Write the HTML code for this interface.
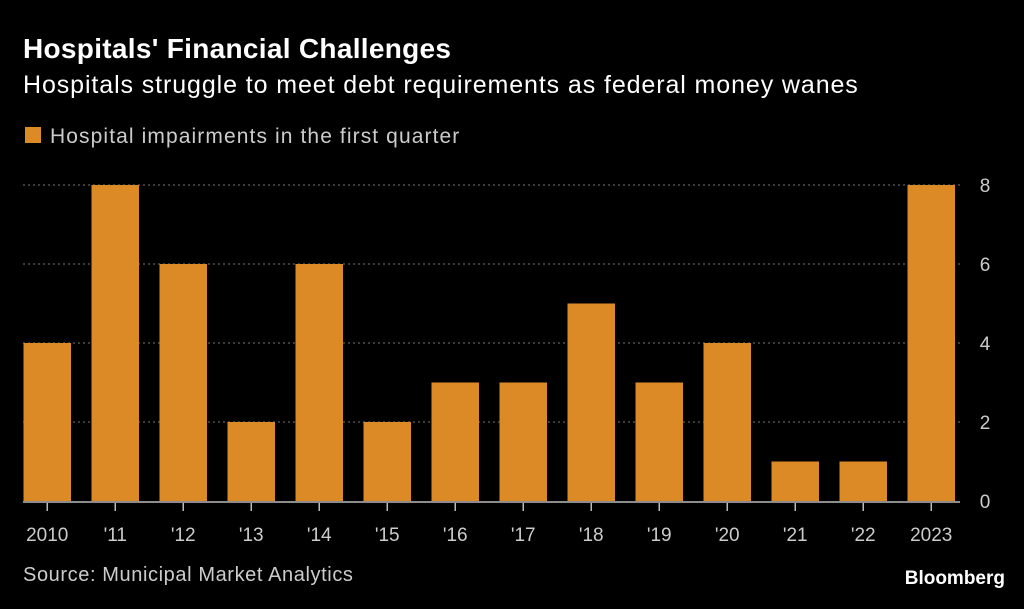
<!DOCTYPE html>
<html><head><meta charset="utf-8"><style>
body{margin:0;background:#000;width:1024px;height:604px;overflow:hidden;font-family:"Liberation Sans",sans-serif;color:#fff}
</style></head><body>
<svg width="1024" height="604" xmlns="http://www.w3.org/2000/svg">
<text x="23" y="58" font-size="28" font-weight="bold" fill="#fff" letter-spacing="0.3">Hospitals' Financial Challenges</text>
<text x="23" y="93" font-size="25" fill="#fff" letter-spacing="0.9">Hospitals struggle to meet debt requirements as federal money wanes</text>
<rect x="25" y="127" width="16" height="16" fill="#db8a26"/>
<text x="50" y="143" font-size="21" fill="#ccc" letter-spacing="1.1">Hospital impairments in the first quarter</text>
<g id="grid"></g><g id="bars"></g><g id="xaxis"></g>
<text x="23" y="581" font-size="20" fill="#ccc" letter-spacing="0.6">Source: Municipal Market Analytics</text>
<text x="1005" y="584" font-size="19" font-weight="bold" fill="#fff" text-anchor="end">Bloomberg</text>
</svg>
<script>
const categories=["2010","'11","'12","'13","'14","'15","'16","'17","'18","'19","'20","'21","'22","2023"];
const values=[4,8,6,2,6,2,3,3,5,3,4,1,1,8];
const yTicks=[0,2,4,6,8];
const NS="http://www.w3.org/2000/svg";
const y=v=>501-v*39.5;
const x=i=>23.5+i*68;
const bw=47.5;
function mk(t,a,p){const e=document.createElementNS(NS,t);for(const k in a)e.setAttribute(k,a[k]);p.appendChild(e);return e;}
const grid=document.getElementById('grid'),bars=document.getElementById('bars'),xa=document.getElementById('xaxis');
yTicks.forEach(t=>{
 if(t>0){const l=mk('line',{x1:23,x2:960,y1:y(t),y2:y(t),stroke:'#777','stroke-dasharray':'2,3','stroke-width':1},grid);
 
 }
 const tx=mk('text',{x:985,y:y(t)+7,'font-size':19,fill:'#ccc','text-anchor':'middle'},grid);tx.textContent=t;
 
 
});
values.forEach((v,i)=>{
 const r=mk('rect',{x:x(i),y:y(v),width:bw,height:y(0)-y(v),fill:'#db8a26'},bars);
 
 
 const tk=mk('line',{x1:x(i)+bw/2,x2:x(i)+bw/2,y1:503,y2:511,stroke:'#bbb','stroke-width':1.5},xa);
 
 
 const t=mk('text',{x:x(i)+bw/2,y:541,'font-size':19,fill:'#ccc','text-anchor':'middle'},xa);t.textContent=categories[i];
 
 
});
const ax=mk('line',{x1:23,x2:960,y1:502,y2:502,stroke:'#bbb','stroke-width':1.5},xa);


</script>
</body></html>
